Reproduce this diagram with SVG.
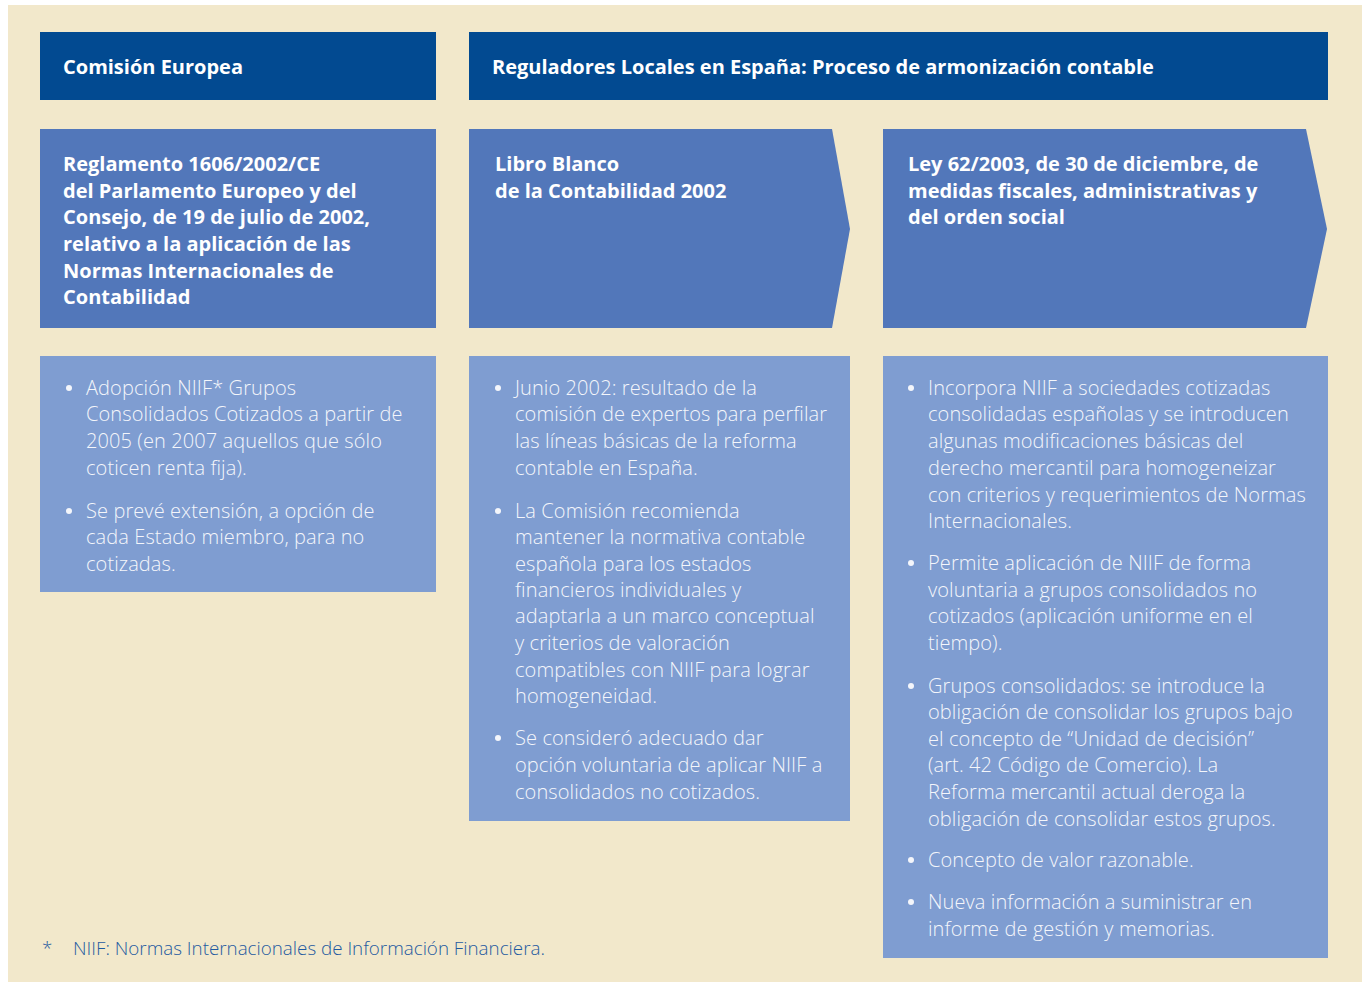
<svg xmlns="http://www.w3.org/2000/svg" width="1362" height="982" viewBox="0 0 1362 982">
  <style>
    .bg { fill: #f2e8cb; }
    .dark { fill: #024a91; }
    .mid { fill: #5277ba; }
    .light { fill: #7f9dd1; }
    .hd { font-family: "Open Sans", "Liberation Sans", sans-serif; font-weight: 700; font-size: 20px; fill: #ffffff; }
    .tx { font-family: "Open Sans", "Liberation Sans", sans-serif; font-weight: 300; font-size: 20px; letter-spacing: 0.1px; fill: #f4f6fb; }
    .fn { font-family: "Open Sans", "Liberation Sans", sans-serif; font-weight: 300; font-size: 18.8px; fill: #1f5aa0; }
    .dot { fill: #f4f6fb; }
  </style>
  <rect width="1362" height="982" fill="#ffffff"/>
  <rect class="bg" x="8" y="5" width="1354" height="977"/>

  <g id="hdr-comision">
    <rect class="dark" x="40" y="32" width="396" height="68"/>
    <text class="hd" x="63" y="74">Comisión Europea</text>
  </g>
  <g id="hdr-reguladores">
    <rect class="dark" x="469" y="32" width="859" height="68"/>
    <text class="hd" x="492" y="74">Reguladores Locales en España: Proceso de armonización contable</text>
  </g>

  <g id="reglamento">
    <rect class="mid" x="40" y="129" width="396" height="199"/>
    <text class="hd" x="63" y="171">Reglamento 1606/2002/CE</text>
    <text class="hd" x="63" y="198">del Parlamento Europeo y del</text>
    <text class="hd" x="63" y="224">Consejo, de 19 de julio de 2002,</text>
    <text class="hd" x="63" y="251">relativo a la aplicación de las</text>
    <text class="hd" x="63" y="278">Normas Internacionales de</text>
    <text class="hd" x="63" y="304">Contabilidad</text>
  </g>
  <g id="libro-blanco">
    <polygon class="mid" points="469,129 832,129 850,229 832,328 469,328"/>
    <text class="hd" x="495" y="171">Libro Blanco</text>
    <text class="hd" x="495" y="198">de la Contabilidad 2002</text>
  </g>
  <g id="ley-62">
    <polygon class="mid" points="883,129 1306,129 1327,229 1306,328 883,328"/>
    <text class="hd" x="908" y="171">Ley 62/2003, de 30 de diciembre, de</text>
    <text class="hd" x="908" y="198">medidas fiscales, administrativas y</text>
    <text class="hd" x="908" y="224">del orden social</text>
  </g>

  <g id="detalle-reglamento">
    <rect class="light" x="40" y="356" width="396" height="236"/>
    <circle class="dot" cx="69" cy="388" r="3"/>
    <text class="tx" x="86" y="395">Adopción NIIF* Grupos</text>
    <text class="tx" x="86" y="421">Consolidados Cotizados a partir de</text>
    <text class="tx" x="86" y="448">2005 (en 2007 aquellos que sólo</text>
    <text class="tx" x="86" y="475">coticen renta fija).</text>
    <circle class="dot" cx="69" cy="511" r="3"/>
    <text class="tx" x="86" y="518">Se prevé extensión, a opción de</text>
    <text class="tx" x="86" y="544">cada Estado miembro, para no</text>
    <text class="tx" x="86" y="571">cotizadas.</text>
  </g>

  <g id="detalle-libro-blanco">
    <rect class="light" x="469" y="356" width="381" height="465"/>
    <circle class="dot" cx="498" cy="388" r="3"/>
    <text class="tx" x="515" y="395">Junio 2002: resultado de la</text>
    <text class="tx" x="515" y="421">comisión de expertos para perfilar</text>
    <text class="tx" x="515" y="448">las líneas básicas de la reforma</text>
    <text class="tx" x="515" y="475">contable en España.</text>
    <circle class="dot" cx="498" cy="511" r="3"/>
    <text class="tx" x="515" y="518">La Comisión recomienda</text>
    <text class="tx" x="515" y="544">mantener la normativa contable</text>
    <text class="tx" x="515" y="571">española para los estados</text>
    <text class="tx" x="515" y="597">financieros individuales y</text>
    <text class="tx" x="515" y="623">adaptarla a un marco conceptual</text>
    <text class="tx" x="515" y="650">y criterios de valoración</text>
    <text class="tx" x="515" y="677">compatibles con NIIF para lograr</text>
    <text class="tx" x="515" y="703">homogeneidad.</text>
    <circle class="dot" cx="498" cy="738" r="3"/>
    <text class="tx" x="515" y="745">Se consideró adecuado dar</text>
    <text class="tx" x="515" y="772">opción voluntaria de aplicar NIIF a</text>
    <text class="tx" x="515" y="799">consolidados no cotizados.</text>
  </g>

  <g id="detalle-ley-62">
    <rect class="light" x="883" y="356" width="445" height="602"/>
    <circle class="dot" cx="911" cy="388" r="3"/>
    <text class="tx" x="928" y="395">Incorpora NIIF a sociedades cotizadas</text>
    <text class="tx" x="928" y="421">consolidadas españolas y se introducen</text>
    <text class="tx" x="928" y="448">algunas modificaciones básicas del</text>
    <text class="tx" x="928" y="475">derecho mercantil para homogeneizar</text>
    <text class="tx" x="928" y="502">con criterios y requerimientos de Normas</text>
    <text class="tx" x="928" y="528">Internacionales.</text>
    <circle class="dot" cx="911" cy="563" r="3"/>
    <text class="tx" x="928" y="570">Permite aplicación de NIIF de forma</text>
    <text class="tx" x="928" y="597">voluntaria a grupos consolidados no</text>
    <text class="tx" x="928" y="623">cotizados (aplicación uniforme en el</text>
    <text class="tx" x="928" y="650">tiempo).</text>
    <circle class="dot" cx="911" cy="686" r="3"/>
    <text class="tx" x="928" y="693">Grupos consolidados: se introduce la</text>
    <text class="tx" x="928" y="719">obligación de consolidar los grupos bajo</text>
    <text class="tx" x="928" y="746">el concepto de “Unidad de decisión”</text>
    <text class="tx" x="928" y="772">(art. 42 Código de Comercio). La</text>
    <text class="tx" x="928" y="799">Reforma mercantil actual deroga la</text>
    <text class="tx" x="928" y="826">obligación de consolidar estos grupos.</text>
    <circle class="dot" cx="911" cy="860" r="3"/>
    <text class="tx" x="928" y="867">Concepto de valor razonable.</text>
    <circle class="dot" cx="911" cy="902" r="3"/>
    <text class="tx" x="928" y="909">Nueva información a suministrar en</text>
    <text class="tx" x="928" y="936">informe de gestión y memorias.</text>
  </g>

  <g id="nota">
    <text class="fn" x="42" y="955">*</text>
    <text class="fn" x="73" y="955">NIIF: Normas Internacionales de Información Financiera.</text>
  </g>
</svg>
